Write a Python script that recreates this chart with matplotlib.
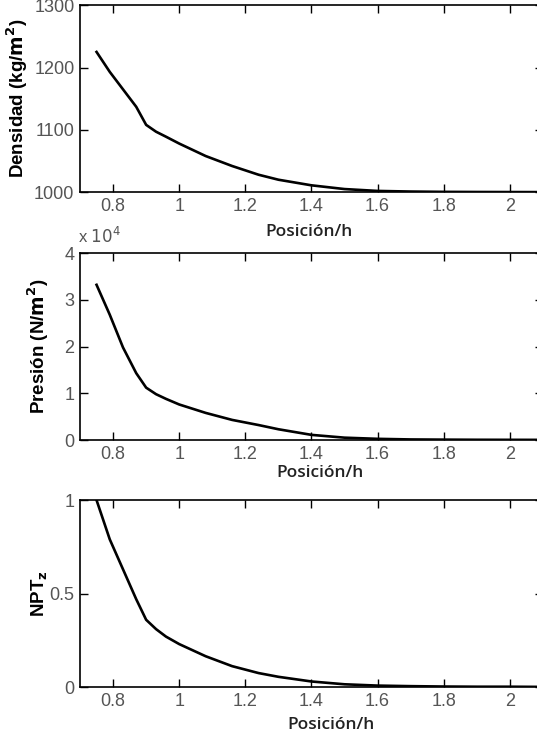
import matplotlib
matplotlib.use("Agg")
import matplotlib.pyplot as plt

# posición / h (shared by all three profiles)
pos_h = [0.75, 0.79, 0.83, 0.87, 0.90, 0.93, 0.96, 1.00, 1.08, 1.16, 1.24,
         1.30, 1.40, 1.50, 1.60, 1.70, 1.80, 1.90, 2.00, 2.10]

# densidad (kg/m^2)
densidad = [1225, 1193, 1165, 1137, 1108, 1097, 1089, 1078, 1058, 1042, 1028,
            1020, 1011, 1005, 1002, 1001, 1000.5, 1000.3, 1000.2, 1000.1]

# presión (N/m^2) / 1e4
presion = [3.32, 2.68, 1.98, 1.43, 1.12, 0.98, 0.88, 0.76, 0.58, 0.43, 0.32,
           0.23, 0.11, 0.05, 0.025, 0.012, 0.008, 0.005, 0.004, 0.003]

# NPT_z
npt_z = [1.0, 0.79, 0.63, 0.47, 0.36, 0.31, 0.27, 0.23, 0.165, 0.112, 0.075,
         0.055, 0.03, 0.015, 0.008, 0.005, 0.003, 0.002, 0.002, 0.001]

x_ticks = [0.8, 1, 1.2, 1.4, 1.6, 1.8, 2]
x_tick_labels = ["0.8", "1", "1.2", "1.4", "1.6", "1.8", "2"]

TICK_COLOR = "#555555"
LABEL_FONT = "Liberation Sans"

fig = plt.figure(figsize=(5.37, 7.42), dpi=100)

# axes extend a little past the right edge, as in the cropped original
ax1 = fig.add_axes([0.149, 0.741, 0.862, 0.252])
ax2 = fig.add_axes([0.149, 0.407, 0.862, 0.252])
ax3 = fig.add_axes([0.149, 0.074, 0.862, 0.252])

panels = [
    (ax1, densidad, (1000, 1300), [1000, 1100, 1200, 1300],
     ["1000", "1100", "1200", "1300"], "Densidad (kg/$\\mathbf{m^2}$)",
     -0.135, (0.494, -0.214)),
    (ax2, presion, (0, 4), [0, 1, 2, 3, 4], ["0", "1", "2", "3", "4"],
     "Presión (N/$\\mathbf{m^2}$)", -0.091, (0.519, -0.176)),
    (ax3, npt_z, (0, 1), [0, 0.5, 1], ["0", "0.5", "1"],
     "NPT$_\\mathbf{z}$", -0.087, (0.543, -0.203)),
]

for ax, yvals, ylim, yt, ytl, ylab, ylab_x, xlab_pos in panels:
    ax.plot(pos_h, yvals, color="black", lw=1.9)
    ax.set_xlim(0.7, 2.1)
    ax.set_ylim(*ylim)
    ax.set_xticks(x_ticks)
    ax.set_xticklabels(x_tick_labels, family=LABEL_FONT)
    ax.set_yticks(yt)
    ax.set_yticklabels(ytl, family=LABEL_FONT)
    ax.tick_params(direction="in", length=6, width=1.0, top=True, right=True,
                   labelsize=13, labelcolor=TICK_COLOR, pad=4)
    for sp in ax.spines.values():
        sp.set_linewidth(1.2)
    ax.set_ylabel(ylab, fontsize=13.5, fontweight="bold", family=LABEL_FONT)
    ax.yaxis.set_label_coords(ylab_x, 0.5)
    ax.yaxis.label.set_va("center")
    ax.set_xlabel("Posición/h", fontsize=12.5, fontweight="semibold",
                  family="Open Sans", color="#222222")
    ax.xaxis.set_label_coords(*xlab_pos)
    ax.xaxis.label.set_va("center")

# exponent marker on the pressure panel
ax2.text(0.043, 1.09, "x $10^4$", transform=ax2.transAxes, ha="center",
         va="center", fontsize=12, color=TICK_COLOR, family=LABEL_FONT)

fig.savefig("out.png", dpi=100)
